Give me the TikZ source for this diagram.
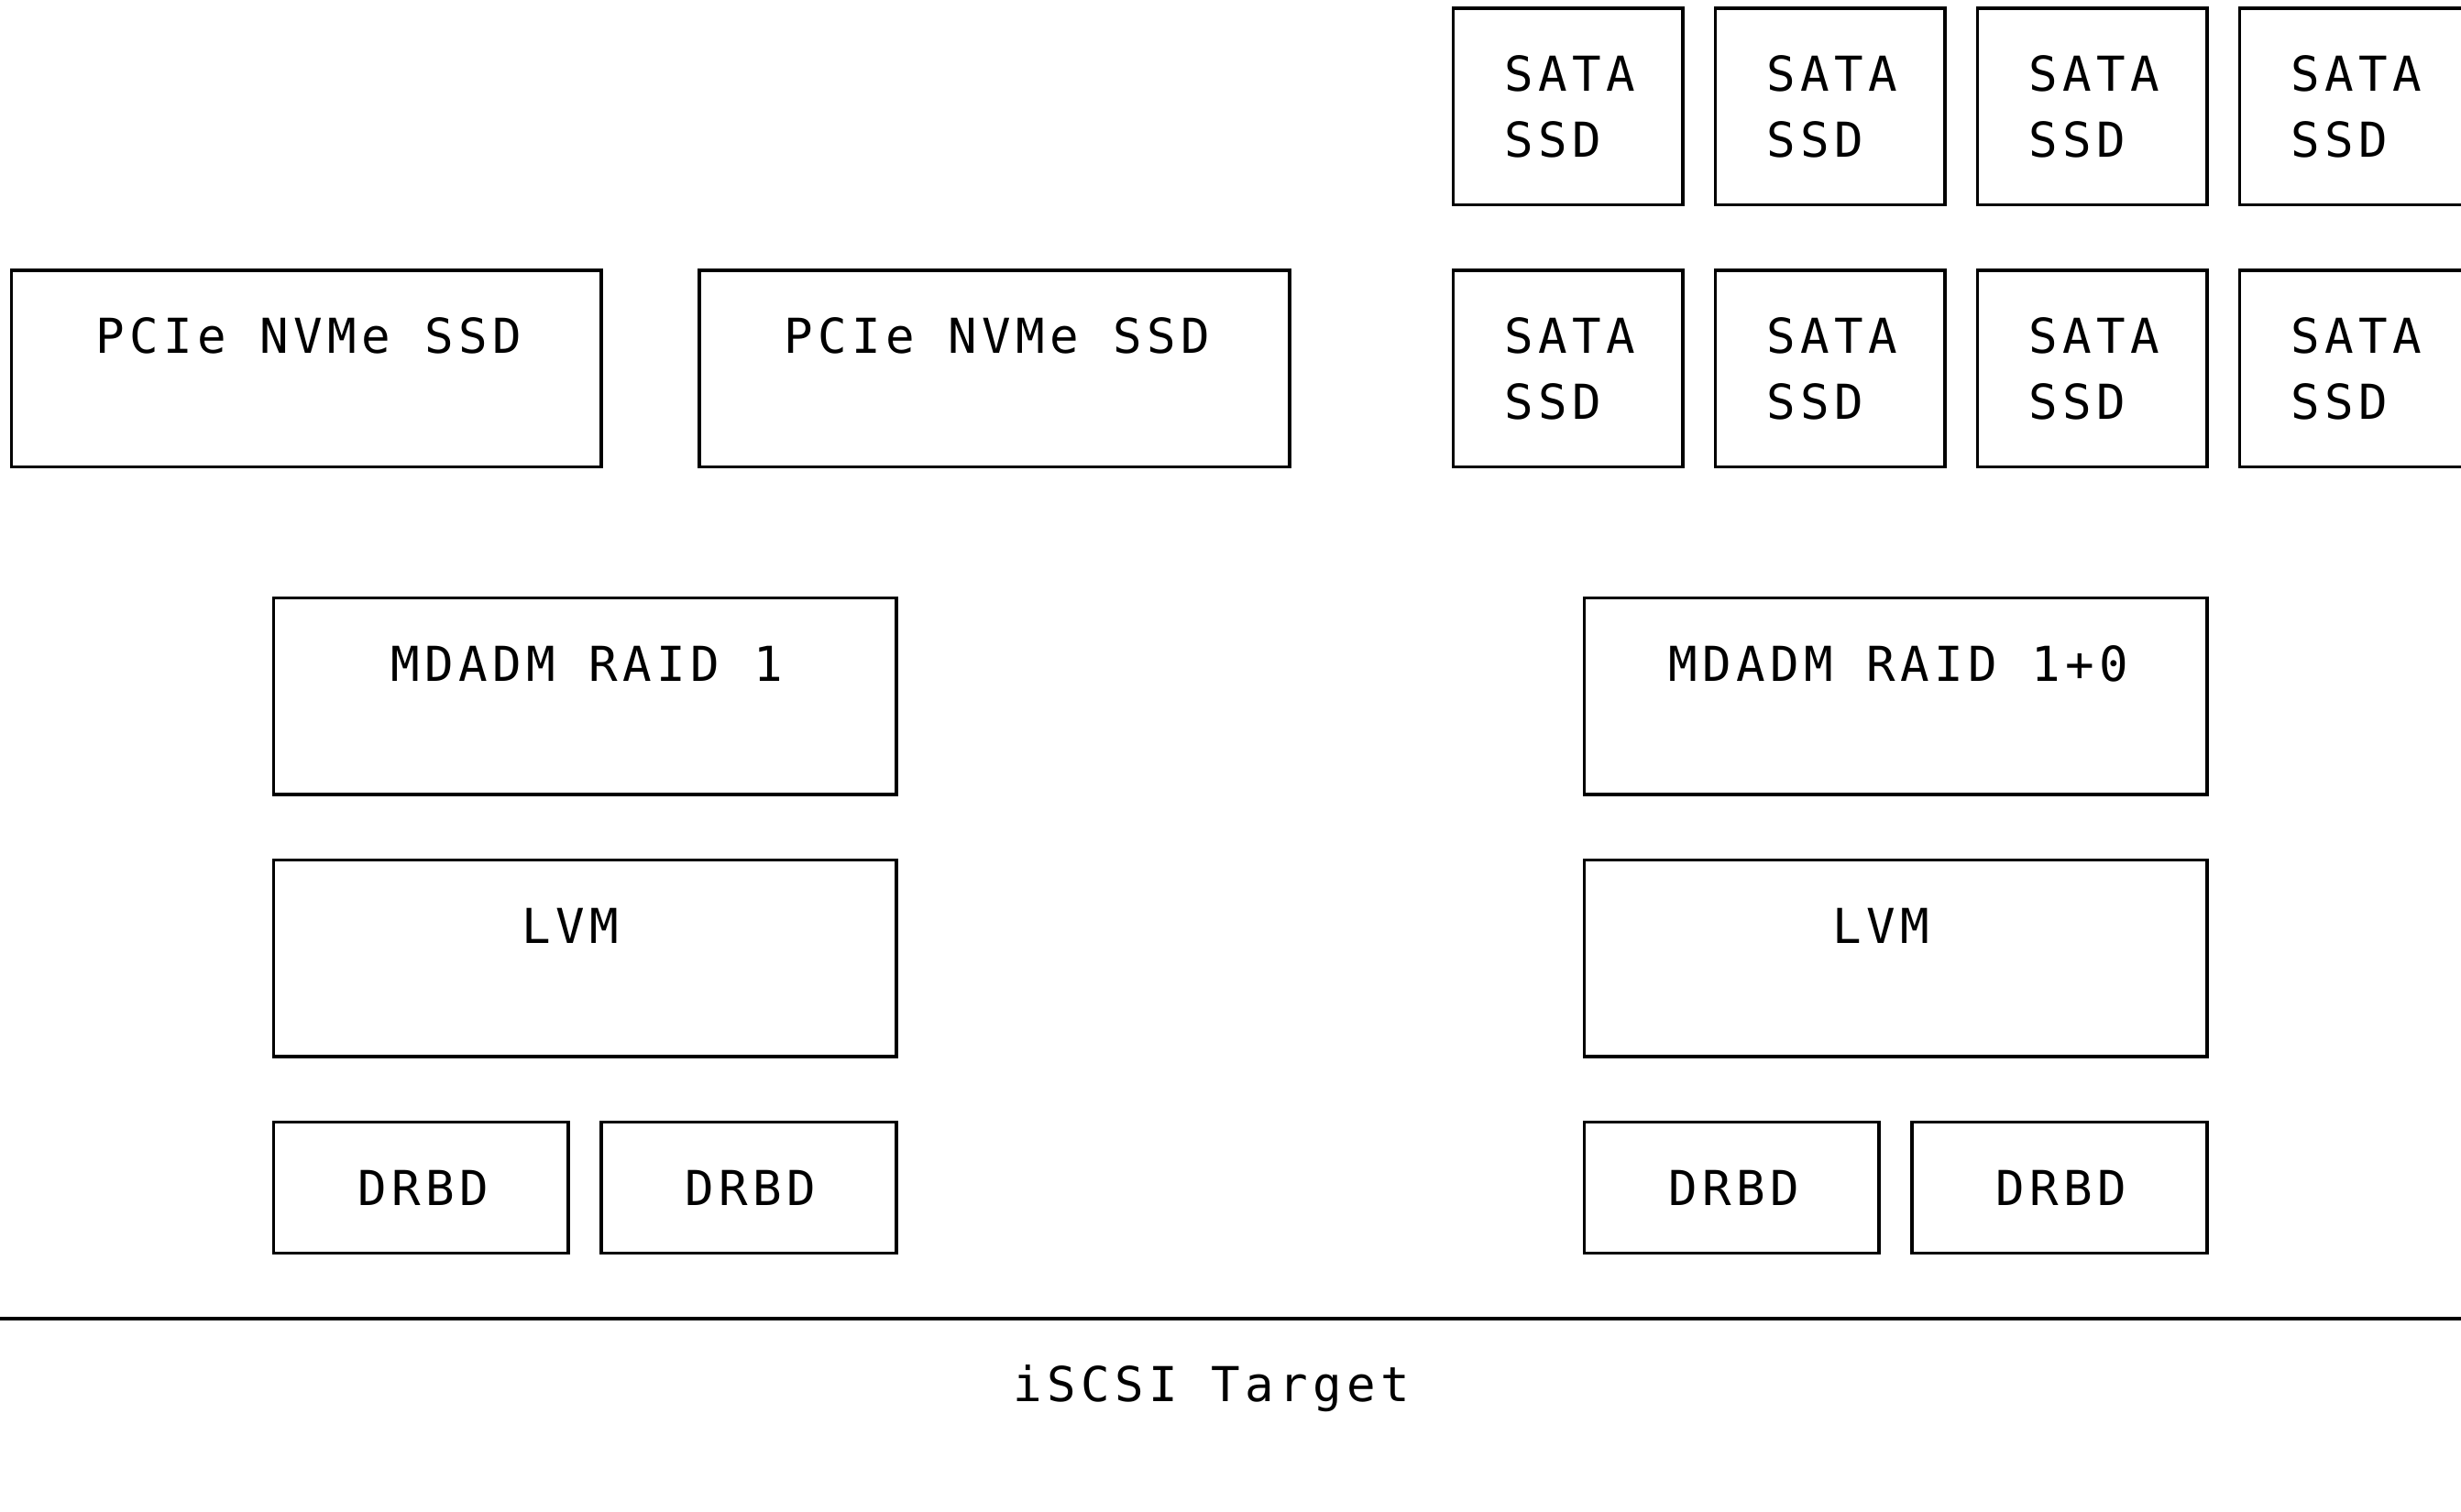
\documentclass[tikz,border=0pt]{standalone}
\usepackage{fontspec}
\newfontfamily\bobfont{DejaVu Sans Mono}[LetterSpace=10.2]

\begin{document}
\begin{tikzpicture}[x=14.3pt,y={(0pt,-28.6pt)},
    box/.style={line width=1.5pt},
    lbl/.style={anchor=base west,inner sep=0pt,xshift=0.83pt,yshift=-7.6pt,
      font=\bobfont\fontsize{21pt}{25pt}\selectfont}]
    \useasboundingbox (-0.35,-0.126) rectangle (74.755,22.937);
    % Disks
    \foreach \i in {0,...,3} {
      \draw[box] (44+8*\i,0) rectangle (51+8*\i,3);
      \node[lbl] (sataA\i) at (45.5+8*\i,1) {SATA};
      \node[lbl] (ssdA\i) at (45.5+8*\i,2) {SSD};
      \draw[box] (44+8*\i,4) rectangle (51+8*\i,7);
      \node[lbl] (sataB\i) at (45.5+8*\i,5) {SATA};
      \node[lbl] (ssdB\i) at (45.5+8*\i,6) {SSD};
    }
    \draw[box] (0,4) rectangle (18,7);
    \node[lbl] (nvme1) at (2.5,5) {PCIe NVMe SSD};
    \draw[box] (21,4) rectangle (39,7);
    \node[lbl] (nvme2) at (23.5,5) {PCIe NVMe SSD};
    % Left stack
    \draw[box] (8,9) rectangle (27,12);
    \node[lbl] (raid1) at (11.5,10) {MDADM RAID 1};
    \draw[box] (8,13) rectangle (27,16);
    \node[lbl] (lvm1) at (15.5,14) {LVM};
    \draw[box] (8,17) rectangle (17,19);
    \node[lbl] (drbd1) at (10.5,18) {DRBD};
    \draw[box] (18,17) rectangle (27,19);
    \node[lbl] (drbd2) at (20.5,18) {DRBD};
    % Right stack
    \draw[box] (48,9) rectangle (67,12);
    \node[lbl] (raid10) at (50.5,10) {MDADM RAID 1+0};
    \draw[box] (48,13) rectangle (67,16);
    \node[lbl] (lvm2) at (55.5,14) {LVM};
    \draw[box] (48,17) rectangle (57,19);
    \node[lbl] (drbd3) at (50.5,18) {DRBD};
    \draw[box] (58,17) rectangle (67,19);
    \node[lbl] (drbd4) at (60.5,18) {DRBD};
    % Target
    \coordinate (busL) at (-0.35,20);
    \coordinate (busR) at (74.755,20);
    \draw[box] (busL) -- (busR);
    \node[lbl] (target) at (30.5,21) {iSCSI Target};
\end{tikzpicture}
\end{document}
